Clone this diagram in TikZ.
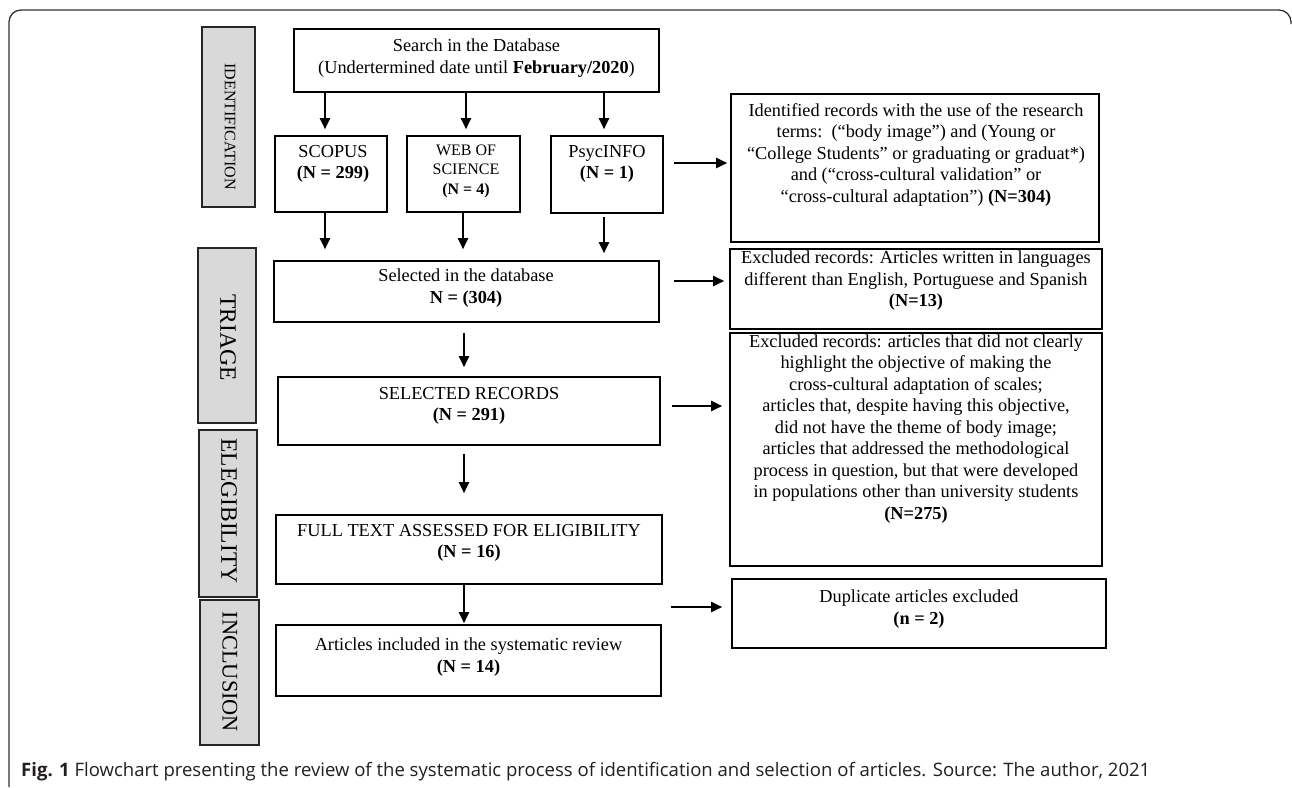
\documentclass[tikz,border=0pt]{standalone}
\usepackage{fontspec}
\usepackage{graphicx}
\setmainfont{Liberation Serif}
\newfontfamily\capfont{Open Sans}
\usetikzlibrary{arrows.meta,calc}
\definecolor{sidegray}{HTML}{D9D9D9}
\definecolor{capcol}{HTML}{231F20}
\tikzset{
  box/.style={draw=black, line width=1.6pt, inner sep=0pt, fill=white},
  sidebox/.style={draw=black!85, line width=1.6pt, fill=sidegray, inner sep=0pt},
  txt/.style={align=center, inner sep=0pt, font=\fontsize{18.3}{21.5}\selectfont},
  smalltxt/.style={align=center, inner sep=0pt, font=\fontsize{16}{19.5}\selectfont},
  sidetxt/.style={inner sep=0pt, rotate=-90},
  arr/.style={line width=2pt, -{Triangle[length=11pt,width=10pt]}},
}
\begin{document}
\begin{tikzpicture}[x=1pt,y=-1pt]
\useasboundingbox (0,0) rectangle (1292,787);
% frame
\draw[line width=1.3pt, black!80, rounded corners=12pt] (9,787) -- (9,10) -- (1291,10) -- (1291,24);

% side labels
\node[sidebox, minimum width=53pt, minimum height=180pt] (sid) at (228.5,117) {};
\node[sidetxt, font=\fontsize{16}{19}\selectfont] (tid) at (230,126.5) {IDENTIFICATION};
\node[sidebox, minimum width=58pt, minimum height=175pt] (str) at (227,335.5) {};
\node[sidetxt, font=\fontsize{23.5}{26}\selectfont] (ttr) at (228,337.5) {TRIAGE};
\node[sidebox, minimum width=58pt, minimum height=167pt] (sel) at (228,513.5) {};
\node[sidetxt, font=\fontsize{23.5}{26}\selectfont] (tel) at (229,511) {ELEGIBILITY};
\node[sidebox, minimum width=59pt, minimum height=145pt] (sin) at (229.5,672.5) {};
\node[sidetxt, font=\fontsize{22.3}{25}\selectfont] (tin) at (230,672) {INCLUSION};

% main boxes
\node[box, minimum width=365pt, minimum height=63pt] (search) at (476.5,60.5) {};
\node[txt] (tsearch) at (476.5,58) {Search in the Database\\(Undertermined date until \textbf{February/2020})};

\node[box, minimum width=112pt, minimum height=76pt] (scopus) at (331,174) {};
\node[txt] (tscopus) at (333,164) {SCOPUS\\\textbf{(N = 299)}};

\node[box, minimum width=113pt, minimum height=76pt] (wos) at (463.5,174) {};
\node[smalltxt] (twos) at (466,171) {WEB OF\\SCIENCE\\\textbf{(N = 4)}};

\node[box, minimum width=112pt, minimum height=77pt] (psyc) at (607,174.5) {};
\node[txt] (tpsyc) at (607,164) {PsycINFO\\\textbf{(N = 1)}};

\node[box, minimum width=368pt, minimum height=148pt] (ident) at (915,168) {};
\node[txt] (tident) at (916,155) {Identified records with the use of the research\\terms:\ \ (“body image”) and (Young or\\“College Students” or graduating or graduat*)\\and (“cross-cultural validation” or\\“cross-cultural adaptation”) \textbf{(N=304)}};

\node[box, minimum width=385pt, minimum height=61pt] (seldb) at (466.5,291.5) {};
\node[txt] (tseldb) at (466,288) {Selected in the database\\\textbf{N = (304)}};

\node[box, minimum width=372pt, minimum height=80pt] (ex13) at (916,289) {};
\node[txt] (tex13) at (916,281) {Excluded records: Articles written in languages\\different than English, Portuguese and Spanish\\\textbf{(N=13)}};

\node[box, minimum width=382pt, minimum height=68pt] (selrec) at (469,411) {};
\node[txt] (tselrec) at (469,406) {SELECTED RECORDS\\\textbf{(N = 291)}};

\node[box, minimum width=372pt, minimum height=233pt] (ex275) at (916,449.5) {};
\node[txt] (tex275) at (916,429) {Excluded records: articles that did not clearly\\highlight the objective of making the\\cross-cultural adaptation of scales;\\articles that, despite having this objective,\\did not have the theme of body image;\\articles that addressed the methodological\\process in question, but that were developed\\in populations other than university students\\\textbf{(N=275)}};

\node[box, minimum width=386pt, minimum height=69pt] (full) at (469,549.5) {};
\node[txt] (tfull) at (469,543) {FULL TEXT ASSESSED FOR ELIGIBILITY\\\textbf{(N = 16)}};

\node[box, minimum width=385pt, minimum height=71pt] (art) at (468.5,660.5) {};
\node[txt] (tart) at (468.5,657) {Articles included in the systematic review\\\textbf{(N = 14)}};

\node[box, minimum width=374pt, minimum height=69pt] (dup) at (919,613.5) {};
\node[txt] (tdup) at (919,609) {Duplicate articles excluded\\\textbf{(n = 2)}};

% arrows down from search
\draw[arr, shorten >=6pt] (search.south -| 325,0) -- (scopus.north -| 325,0);
\draw[arr, shorten >=6pt] (search.south -| 466,0) -- (wos.north -| 466,0);
\draw[arr, shorten >=6pt] (search.south -| 604,0) -- (psyc.north -| 604,0);
% arrows to selected in database
\draw[arr, shorten >=11pt] (scopus.south -| 325,0) -- (seldb.north -| 325,0);
\draw[arr, shorten >=11pt] (wos.south -| 463,0) -- (seldb.north -| 463,0);
\draw[arr, shorten <=3pt, shorten >=7pt] (psyc.south -| 604,0) -- (seldb.north -| 604,0);
% horizontal arrows
\draw[arr, shorten <=10pt, shorten >=3pt] (psyc.east |- 0,163) -- (ident.west |- 0,163);
\draw[arr, shorten <=14pt, shorten >=5pt] (seldb.east |- 0,281) -- (ex13.west |- 0,281);
\draw[arr, shorten <=11pt, shorten >=7pt] (selrec.east |- 0,406) -- (ex275.west |- 0,406);
\coordinate (dupsrc) at (671,607);
\draw[arr, shorten >=9pt] (dupsrc) -- (dup.west |- dupsrc);
% vertical chain
\draw[arr, shorten <=10pt, shorten >=9pt] (seldb.south -| 464,0) -- (selrec.north -| 464,0);
\draw[arr, shorten <=8pt, shorten >=21pt] (selrec.south -| 464,0) -- (full.north -| 464,0);
\draw[arr, shorten >=1pt] (full.south -| 464,0) -- (art.north -| 464,0);

% caption
\node[anchor=west, inner sep=0pt, text=capcol] (cap) at (21,772) {\resizebox{1129pt}{!}{\capfont\fontsize{16}{19}\selectfont\textbf{Fig. 1} Flowchart presenting the review of the systematic process of identification and selection of articles. Source: The author, 2021}};
\end{tikzpicture}
\end{document}
